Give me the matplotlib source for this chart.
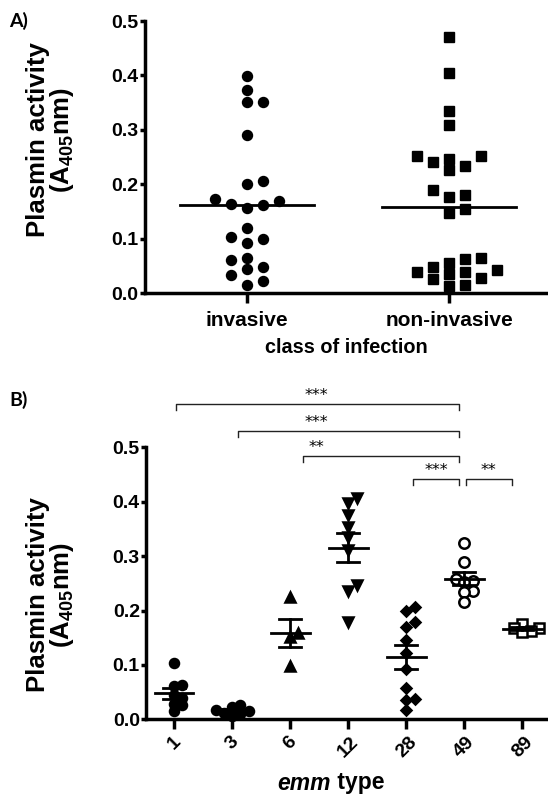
import numpy as np
import matplotlib
matplotlib.use("Agg")
import matplotlib.pyplot as plt

plt.rcParams['font.family'] = ['Liberation Sans', 'DejaVu Sans']
plt.rcParams['mathtext.fontset'] = 'custom'
plt.rcParams['mathtext.rm'] = 'Liberation Sans:bold'
plt.rcParams['mathtext.bf'] = 'Liberation Sans:bold'

# Panel A: plasmin activity by class of infection
classes = ["invasive", "non-invasive"]
invasive = [0.398, 0.373, 0.351, 0.351, 0.291, 0.205, 0.201, 0.173, 0.170, 0.164,
            0.161, 0.157, 0.119, 0.103, 0.100, 0.092, 0.064, 0.061, 0.047, 0.044,
            0.033, 0.022, 0.015]
non_invasive = [0.471, 0.404, 0.334, 0.309, 0.252, 0.252, 0.246, 0.240, 0.234, 0.226,
                0.190, 0.181, 0.176, 0.154, 0.147, 0.064, 0.062, 0.056, 0.047, 0.042,
                0.039, 0.038, 0.035, 0.028, 0.026, 0.014, 0.012]
medians_a = [0.161, 0.158]

# Panel B: plasmin activity by emm type
emm_types = ["1", "3", "6", "12", "28", "49", "89"]
emm1 = [0.103, 0.063, 0.062, 0.045, 0.040, 0.028, 0.027, 0.015]
emm3 = [0.027, 0.022, 0.018, 0.015, 0.012, 0.009, 0.006]
emm6 = [0.225, 0.158, 0.152, 0.098]
emm12 = [0.406, 0.398, 0.376, 0.354, 0.336, 0.311, 0.247, 0.235, 0.178]
emm28 = [0.207, 0.199, 0.179, 0.169, 0.146, 0.121, 0.092, 0.057, 0.037, 0.035, 0.017]
emm49 = [0.325, 0.290, 0.258, 0.255, 0.252, 0.236, 0.234, 0.216]
emm89 = [0.175, 0.168, 0.167, 0.162, 0.161]
sig_pairs = [(0, 5), (1, 5), (2, 5), (4, 5), (5, 6)]
sig_labels = ["***", "***", "**", "***", "**"]
sig_heights = [0.580, 0.530, 0.484, 0.442, 0.442]


def swarm(vals, h, step):
    # greedy column placement, like a dot plot
    vals = np.asarray(vals)
    order = np.argsort(vals)
    offs = np.zeros(len(vals))
    placed = []
    cands = [0, 1, -1, 2, -2, 3, -3, 4, -4]
    for i in order:
        for c in cands:
            if all(not (pc == c and abs(vals[i] - pv) < h) for pc, pv in placed):
                placed.append((c, vals[i]))
                offs[i] = c * step
                break
    return offs


def style_axes(ax, xsize, xpad):
    for s in ['top', 'right']:
        ax.spines[s].set_visible(False)
    for s in ['left', 'bottom']:
        ax.spines[s].set_linewidth(2.5)
    ax.tick_params(axis='y', width=2.5, length=3.5, labelsize=14, pad=1)
    ax.tick_params(axis='x', width=2.5, length=7, labelsize=xsize, pad=xpad)
    for lab in ax.get_xticklabels() + ax.get_yticklabels():
        lab.set_fontweight('bold')


fig = plt.figure(figsize=(5.48, 7.96), dpi=100)
W, H = 548, 796

# ---- A ----
axA = fig.add_axes([145 / W, 1 - 293 / H, 403 / W, 272 / H])
for i, (vals, mk) in enumerate([(invasive, 'o'), (non_invasive, 's')]):
    xs = i + swarm(vals, 0.019, 0.079)
    axA.plot(xs, vals, mk, color='black', ms=7.2 if mk == 'o' else 6.8,
             clip_on=False, zorder=3)
    axA.plot([i - 0.33, i + 0.33], [medians_a[i]] * 2, color='black', lw=2, zorder=4)
axA.set_xlim(-0.505, 1.49)
axA.set_ylim(0, 0.5)
axA.set_xticks([0, 1])
axA.set_xticklabels(classes)
axA.set_yticks(np.arange(0, 0.51, 0.1))
axA.set_yticklabels([f"{v:.1f}" for v in np.arange(0, 0.51, 0.1)])
style_axes(axA, 15, 6)
axA.set_xlabel("class of infection", fontsize=14.3, fontweight='bold', labelpad=6)

# ---- B ----
axB = fig.add_axes([146 / W, 1 - 719.3 / H, 402 / W, 272 / H])
groups = [emm1, emm3, emm6, emm12, emm28, emm49, emm89]
markers = [('o', 6.5, 'black'), ('o', 6.5, 'black'), ('^', 7, 'black'),
           ('v', 7, 'black'), ('D', 5, 'black'), ('o', 7.5, 'white'), ('s', 6.5, 'white')]
for i, (vals, (mk, ms, fc)) in enumerate(zip(groups, markers)):
    xs = i + swarm(vals, 0.013, 0.14)
    axB.plot(xs, vals, mk, ms=ms, mfc=fc, mec='black', mew=1.8, ls='none',
             clip_on=False, zorder=3)
    m = np.mean(vals)
    sem = np.std(vals, ddof=1) / np.sqrt(len(vals))
    axB.plot([i - 0.33, i + 0.33], [m, m], color='black', lw=2, zorder=4)
    axB.plot([i, i], [m - sem, m + sem], color='black', lw=2, zorder=4)
    for y in (m - sem, m + sem):
        axB.plot([i - 0.19, i + 0.19], [y, y], color='black', lw=2, zorder=4)

for (a, b), lab, y in zip(sig_pairs, sig_labels, sig_heights):
    x1, x2 = a + 0.03, b - 0.09
    if a == 5:
        x1, x2 = a + 0.02, b - 0.18
    if a == 1:
        x1 = a + 0.1
    if a == 2:
        x1 = a + 0.22
    if a == 4:
        x1 = a + 0.11
    axB.plot([x1, x1, x2, x2], [y - 0.011, y, y, y - 0.011], color='#222222',
             lw=1, clip_on=False)
    xt = 2.45 if a < 3 else (x1 + x2) / 2
    axB.text(xt, y + 0.002, lab, ha='center', va='bottom', fontsize=11.5,
             family='DejaVu Sans', clip_on=False)

axB.set_xlim(-0.488, 6.44)
axB.set_ylim(0, 0.5)
axB.set_xticks(range(len(emm_types)))
axB.set_xticklabels(emm_types, rotation=45)
axB.set_yticks(np.arange(0, 0.51, 0.1))
axB.set_yticklabels([f"{v:.1f}" for v in np.arange(0, 0.51, 0.1)])
style_axes(axB, 14, 3)

fig.text(331 / W, 1 - 783 / H, "emm", style='italic', fontweight='bold',
         fontsize=16.5, ha='right', va='center')
fig.text(331 / W, 1 - 783 / H, " type", fontweight='bold', fontsize=16.5,
         ha='left', va='center')

# y labels
ylab = "Plasmin activity\n(A$_{\\mathbf{405}}$nm)"
fig.text(51 / W, 1 - 140 / H, ylab, rotation=90, ha='center', va='center',
         fontsize=18.5, fontweight='bold', multialignment='center', linespacing=0.95)
fig.text(51 / W, 1 - 595 / H, ylab, rotation=90, ha='center', va='center',
         fontsize=18.5, fontweight='bold', multialignment='center', linespacing=0.95)

fig.text(9 / W, 1 - 21 / H, "A)", fontsize=14, fontweight='bold',
         family=['Lato', 'DejaVu Sans'], va='center')
fig.text(9 / W, 1 - 400 / H, "B)", fontsize=14, fontweight='bold',
         family=['Lato', 'DejaVu Sans'], va='center')

fig.savefig("out.png", dpi=100)
